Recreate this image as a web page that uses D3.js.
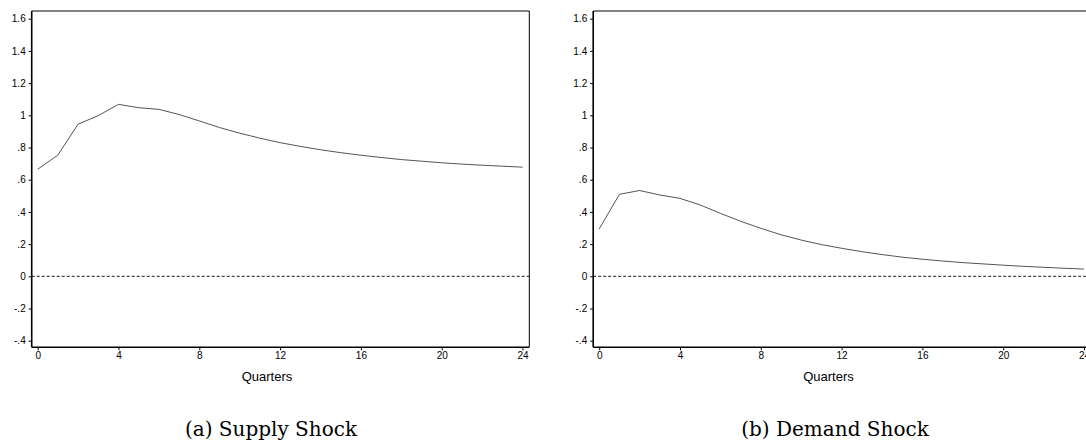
<!DOCTYPE html>
<html>
<head>
<meta charset="utf-8">
<script src="https://cdn.jsdelivr.net/npm/d3@7"></script>
<style>
  html, body { margin: 0; padding: 0; background: #fff; }
  svg { display: block; }
</style>
</head>
<body>
<svg id="chart" width="1086" height="442"></svg>
<script>
// ---- Data ----
const quarters = [0,1,2,3,4,5,6,7,8,9,10,11,12,13,14,15,16,17,18,19,20,21,22,23,24];
const supplyShock = [0.665,0.753,0.945,0.998,1.068,1.047,1.037,1.005,0.965,0.924,0.889,0.858,0.830,0.807,0.786,0.768,0.752,0.738,0.725,0.715,0.705,0.697,0.690,0.684,0.678];
const demandShock = [0.294,0.509,0.533,0.505,0.484,0.443,0.391,0.342,0.298,0.258,0.225,0.197,0.174,0.153,0.135,0.119,0.106,0.095,0.085,0.077,0.069,0.062,0.056,0.050,0.045];
const yTicks = [-0.4,-0.2,0,0.2,0.4,0.6,0.8,1,1.2,1.4,1.6];
const yTickLabels = ["-.4","-.2","0",".2",".4",".6",".8","1","1.2","1.4","1.6"];
const xTicks = [0,4,8,12,16,20,24];
const xTitle = "Quarters";
const captions = ["(a) Supply Shock", "(b) Demand Shock"];
const panels = [
  { values: supplyShock, caption: captions[0] },
  { values: demandShock, caption: captions[1] }
];

// ---- Layout ----
const svg = d3.select("#chart");
const panelOffset = 561.5;
const box = { left: 31.7, right: 529.3, top: 11, bottom: 347.3 };

panels.forEach((p, i) => {
  const dx = i * panelOffset;
  const g = svg.append("g").attr("transform", `translate(${dx},0)`);

  const x = d3.scaleLinear().domain([0, 24]).range([37.7, 522.5]);
  const y = d3.scaleLinear().domain([0, 1.6]).range([276.3, 18.7]);

  // frame (top & right)
  g.append("path")
    .attr("d", `M${box.left},${box.top}H${box.right}V${box.bottom}`)
    .attr("fill", "none").attr("stroke", "#000").attr("stroke-width", 1);

  // zero dashed line
  g.append("line")
    .attr("x1", box.left).attr("x2", box.right)
    .attr("y1", y(0)).attr("y2", y(0))
    .attr("stroke", "#000").attr("stroke-width", 0.9)
    .attr("stroke-dasharray", "3,2");

  // y axis
  const yAxis = d3.axisLeft(y).tickValues(yTicks)
    .tickFormat((d, k) => yTickLabels[k]).tickSize(3).tickPadding(3).tickSizeOuter(0);
  const ya = g.append("g").attr("transform", `translate(${box.left},0)`).call(yAxis);
  ya.select(".domain").attr("d", `M0,${box.top}V${box.bottom}`).attr("stroke-width", 1.6);
  ya.selectAll(".tick line").attr("stroke-width", 1);
  ya.selectAll("text").attr("font-family", "'Liberation Sans', Arial, sans-serif")
    .attr("font-size", 10).attr("fill", "#000");

  // x axis
  const xAxis = d3.axisBottom(x).tickValues(xTicks).tickSize(3).tickPadding(2).tickSizeOuter(0);
  const xa = g.append("g").attr("transform", `translate(0,${box.bottom})`).call(xAxis);
  xa.select(".domain").attr("d", `M${box.left},0H${box.right}`).attr("stroke-width", 1.6);
  xa.selectAll(".tick line").attr("stroke-width", 1);
  xa.selectAll("text").attr("font-family", "'Liberation Sans', Arial, sans-serif")
    .attr("font-size", 10).attr("fill", "#000");

  // axis title
  g.append("text")
    .attr("x", 267).attr("y", 381)
    .attr("text-anchor", "middle")
    .attr("font-family", "'Liberation Sans', Arial, sans-serif")
    .attr("font-size", 13).attr("fill", "#000")
    .text(xTitle);

  // response line
  const line = d3.line().x((d, k) => x(quarters[k])).y(d => y(d));
  g.append("path")
    .datum(p.values)
    .attr("d", line)
    .attr("fill", "none").attr("stroke", "#555").attr("stroke-width", 1);

  // caption
  svg.append("text")
    .attr("x", [271, 835][i]).attr("y", 436)
    .attr("text-anchor", "middle")
    .attr("font-family", "'DejaVu Serif', serif")
    .attr("font-size", 20).attr("fill", "#000")
    .text(p.caption);
});
</script>
</body>
</html>
